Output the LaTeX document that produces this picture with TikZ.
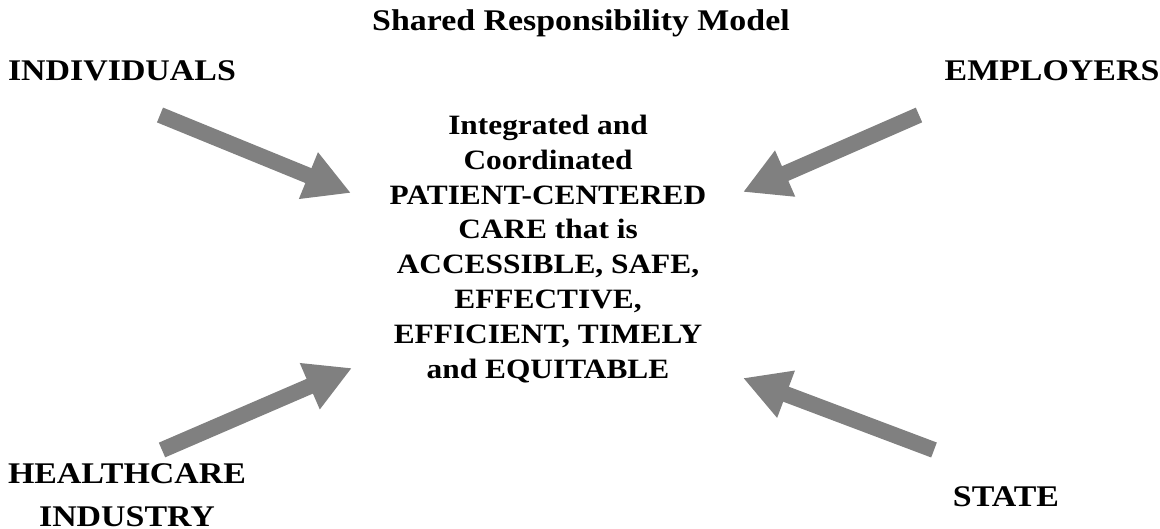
\documentclass[tikz,border=0pt]{standalone}
\usepackage{fontspec}
\setmainfont{Liberation Serif}[FakeStretch=1.13]
\newfontfamily\ctrfont{Liberation Serif}[FakeStretch=1.12]
\usetikzlibrary{arrows.meta}
\definecolor{arrowgray}{HTML}{808080}
\tikzset{
  lbl/.style={font=\fontsize{30}{43}\selectfont\bfseries, align=center, inner sep=0pt},
  ctr/.style={font=\ctrfont\fontsize{28}{34.9}\selectfont\bfseries, align=center, inner sep=0pt},
  blockarrow/.style={draw=arrowgray, line width=16pt, line cap=butt,
    -{Triangle[length=46pt,width=47pt]}, arrowgray},
}
\begin{document}
\begin{tikzpicture}[x=1pt,y=-1pt]
\useasboundingbox (0,0) rectangle (1160,529);
\node[lbl] (title) at (581,23) {Shared Responsibility Model};
\node[lbl] (ind) at (122,71) {INDIVIDUALS};
\node[lbl] (emp) at (1052,71) {EMPLOYERS};
\node[lbl] (hc) at (127,495) {HEALTHCARE\\INDUSTRY};
\node[lbl] (st) at (1006,497) {STATE};
\node[ctr] (ctr) at (548,249) {Integrated and\\Coordinated\\PATIENT-CENTERED\\CARE that is\\ACCESSIBLE, SAFE,\\EFFECTIVE,\\EFFICIENT, TIMELY\\and EQUITABLE};
\coordinate (a1s) at (160,115);
\coordinate (a1e) at (351,193);
\coordinate (a2s) at (919,115);
\coordinate (a2e) at (743,192);
\coordinate (a3s) at (162,450);
\coordinate (a3e) at (352,368);
\coordinate (a4s) at (934,450);
\coordinate (a4e) at (743,378);
\draw[blockarrow] (a1s) -- (a1e);
\draw[blockarrow] (a2s) -- (a2e);
\draw[blockarrow] (a3s) -- (a3e);
\draw[blockarrow] (a4s) -- (a4e);
\end{tikzpicture}
\end{document}
